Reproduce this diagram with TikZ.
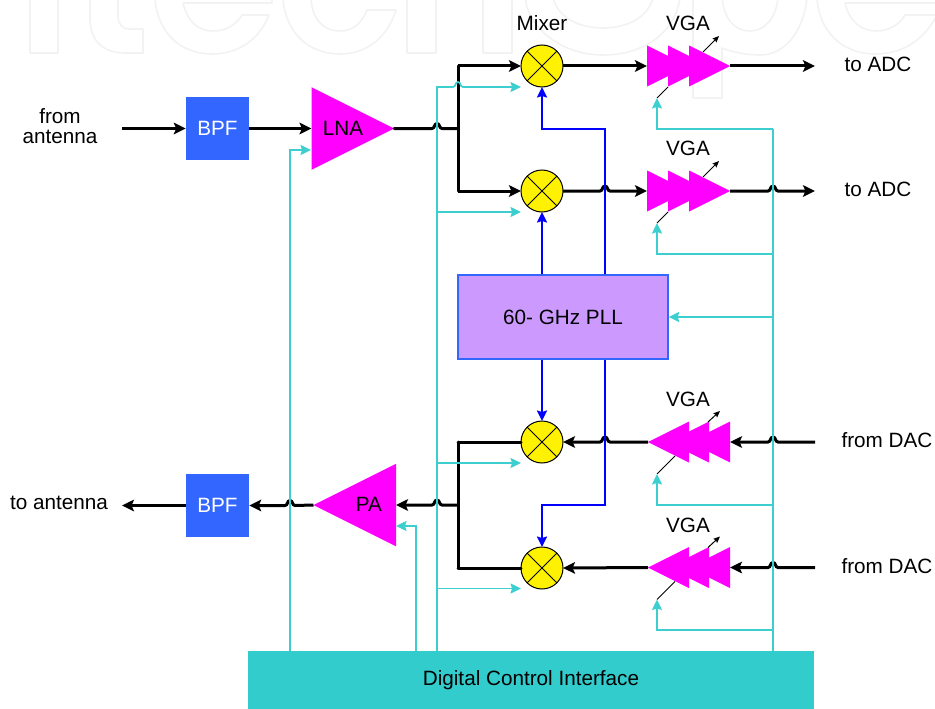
\documentclass[tikz,border=0pt]{standalone}
\usepackage{fontspec}
\setmainfont{Liberation Sans}
\usetikzlibrary{arrows.meta,shapes.geometric}
\definecolor{mag}{HTML}{FF00FF}
\definecolor{blk}{HTML}{3366FF}
\definecolor{ctl}{HTML}{3DCFCF}
\definecolor{digi}{HTML}{33CCCC}
\definecolor{pll}{HTML}{CC99FF}
\definecolor{wm}{HTML}{F2F2F2}
\newcommand\humpR[1]{-- ([xshift=-5pt]#1) .. controls ([xshift=-2pt]#1) and ([xshift=-3pt,yshift=5pt]#1) .. ([yshift=5pt]#1) .. controls ([xshift=3pt,yshift=5pt]#1) and ([xshift=2pt]#1) .. ([xshift=5pt]#1)}
\newcommand\humpL[1]{-- ([xshift=5pt]#1) .. controls ([xshift=2pt]#1) and ([xshift=3pt,yshift=5pt]#1) .. ([yshift=5pt]#1) .. controls ([xshift=-3pt,yshift=5pt]#1) and ([xshift=-2pt]#1) .. ([xshift=-5pt]#1)}
\tikzset{
  x=1pt,y=-1pt,
  lbl/.style={font=\fontsize{20.7}{22}\selectfont,inner sep=0pt,align=center},
  sig/.style={line width=3pt,black,-{Stealth[length=12pt,width=11.5pt,inset=2.5pt]}},
  signo/.style={line width=3pt,black,line cap=round,line join=round},
  ctrl/.style={line width=1.7pt,ctl,-{Stealth[length=10.5pt,width=10pt,inset=1.5pt]}},
  lo/.style={line width=2pt,blue,-{Stealth[length=10.5pt,width=10pt,inset=1.5pt]}},
  gainarrow/.style={line width=1pt,black,-{Stealth[length=6.5pt,width=5.5pt,inset=1pt]}},
  gainline/.style={line width=1pt,black},
  bpfbox/.style={fill=blk,minimum width=63pt,minimum height=63pt,inner sep=0pt,text=white,font=\fontsize{20.7}{22}\selectfont},
  mixer/.style={circle,draw=black,line width=1pt,fill=yellow,minimum size=42pt,inner sep=0pt,outer sep=0pt},
  amp/.style={isosceles triangle,isosceles triangle stretches,fill=mag,inner sep=0pt,outer sep=0pt,minimum width=#1,minimum height=#1},
  ampr/.style={amp=82.5pt},
  stage/.style={amp=41pt},
  wmark/.style={draw=wm,line width=1.6pt,line join=round},
}
\begin{document}
\begin{tikzpicture}
\useasboundingbox (0,0) rectangle (935,709);
% watermark
\begin{scope}
\clip (0,0) rectangle (935,709);
\draw[wmark] (30,-2) -- (30,53) -- (58,53) -- (58,-2);
\draw[wmark] (90,-2) -- (90,18) .. controls (90,42) and (104,53) .. (125,53) -- (143,53) -- (143,29) -- (130,29) .. controls (122,29) and (118,24) .. (118,16) -- (118,-2);
\draw[wmark] (155,-2) .. controls (157,32) and (180,54) .. (212,54) .. controls (240,54) and (260,38) .. (269,15) -- (242,15) .. controls (236,25) and (226,31) .. (213,31) .. controls (197,31) and (187,20) .. (183,3) -- (272,3) -- (272,-2);
\draw[wmark] (283,-2) .. controls (285,32) and (308,54) .. (340,54) .. controls (368,54) and (388,36) .. (396,10) -- (367,10) .. controls (362,23) and (353,31) .. (340,31) .. controls (322,31) and (312,18) .. (311,-2);
\draw[wmark] (407,-2) -- (407,53) -- (436,53) -- (436,-2);
\draw[wmark] (483,-2) -- (483,53) -- (512,53) -- (512,-2);
\draw[wmark] (525,-2) .. controls (530,32) and (565,55) .. (603,55) .. controls (645,55) and (675,32) .. (680,-2);
\draw[wmark] (553,-2) .. controls (558,17) and (578,28) .. (603,28) .. controls (628,28) and (648,17) .. (653,-2);
\draw[wmark] (693,-2) -- (693,98) -- (722,98) -- (722,48) .. controls (735,53) and (748,55) .. (760,55) .. controls (785,55) and (803,32) .. (807,-2);
\draw[wmark] (722,-2) .. controls (724,18) and (734,31) .. (750,31) .. controls (765,31) and (776,18) .. (778,-2);
\draw[wmark] (817,-2) .. controls (819,32) and (843,54) .. (875,54) .. controls (905,54) and (925,38) .. (937,15) -- (905,15) .. controls (899,25) and (889,31) .. (876,31) .. controls (860,31) and (849,20) .. (845,3) -- (940,3);
\end{scope}

% boxes
\node[bpfbox] (bpf1) at (217.5,128.5) {BPF};
\node[bpfbox] (bpf2) at (217.5,505.5) {BPF};
\node[ampr,anchor=apex] (lna) at (394,128.5) {};
\node[ampr,anchor=apex,shape border rotate=180] (pa) at (313.5,505) {};
\node[lbl] (lnat) at (343,128) {LNA};
\node[lbl] (pat) at (369,504) {PA};
\node[mixer] (m1) at (542,66) {};
\node[mixer] (m2) at (542,191) {};
\node[mixer] (m3) at (542,442) {};
\node[mixer] (m4) at (542,568) {};
\foreach \m in {m1,m2,m3,m4}{
  \draw[line width=1pt] (\m.45) -- (\m.225) (\m.135) -- (\m.-45);
}
% forward VGAs
\node[stage,anchor=lower side] (v1a) at (647,66) {};
\node[stage,anchor=lower side] (v1b) at (668,66) {};
\node[stage,anchor=lower side] (v1c) at (689,66) {};
\node[stage,anchor=lower side] (v2a) at (647,191) {};
\node[stage,anchor=lower side] (v2b) at (668,191) {};
\node[stage,anchor=lower side] (v2c) at (689,191) {};
% reverse VGAs
\node[stage,shape border rotate=180,anchor=lower side] (v3c) at (730,442) {};
\node[stage,shape border rotate=180,anchor=lower side] (v3b) at (709,442) {};
\node[stage,shape border rotate=180,anchor=lower side] (v3a) at (689,442) {};
\node[stage,shape border rotate=180,anchor=lower side] (v4c) at (730,567.5) {};
\node[stage,shape border rotate=180,anchor=lower side] (v4b) at (709,567.5) {};
\node[stage,shape border rotate=180,anchor=lower side] (v4a) at (689,567.5) {};

\node[draw=blk,line width=1.4pt,fill=pll,minimum width=210pt,minimum height=84pt,inner sep=0pt,font=\fontsize{20.7}{22}\selectfont] (pllb) at (563,317) {60- GHz PLL};
\node[fill=digi,minimum width=566pt,minimum height=58pt,inner sep=0pt,font=\fontsize{20.7}{22}\selectfont] (dci) at (531,680) {Digital Control Interface};

% texts
\node[lbl] (tfa) at (60,126.5) {from\\[-2pt]antenna};
\node[lbl] (tta) at (59,503) {to antenna};
\node[lbl] (tmx) at (542,23) {Mixer};
\node[lbl] (tv1) at (688,23) {VGA};
\node[lbl] (tv2) at (688,148) {VGA};
\node[lbl] (tv3) at (688,399) {VGA};
\node[lbl] (tv4) at (688,525) {VGA};
\node[lbl] (tad1) at (878,64) {to ADC};
\node[lbl] (tad2) at (878,189) {to ADC};
\node[lbl] (tda1) at (887,440) {from DAC};
\node[lbl] (tda2) at (887,566) {from DAC};

% named points
\coordinate (in) at (122,128.5);
\coordinate (out) at (122,505.5);
\coordinate (j1) at (458,128.5);
\coordinate (j1t) at (458,66);
\coordinate (j1b) at (458,191);
\coordinate (j2) at (458,505);
\coordinate (j2t) at (458,442);
\coordinate (j2b) at (458,568);
\coordinate (o1) at (815,66);
\coordinate (o2) at (815,191);
\coordinate (i3) at (815,442);
\coordinate (i4) at (815,567.5);
\coordinate (x1) at (437,128.5);
\coordinate (x2) at (437,505);
\coordinate (x3) at (290,505.5);
\coordinate (x4) at (605,191);
\coordinate (x5) at (773,191);
\coordinate (x6) at (605,442);
\coordinate (x7) at (773,442);
\coordinate (x8) at (773,567.5);
\coordinate (x9) at (458,87);

% black signal paths
\draw[signo] (lna.apex) \humpR{x1} -- (j1);
\draw[signo] (j1b) -- (j1t);
\draw[sig] (j1t) -- (m1.west);
\draw[sig] (j1b) -- (m2.west);
\draw[sig] (in) -- (bpf1.west);
\draw[sig] (bpf1.east) -- (lna.lower side);
\draw[sig] (m1.east) -- (v1a.lower side);
\draw[sig] (v1c.apex) -- (o1);
\draw[sig] (m2.east) \humpR{x4} -- (v2a.lower side);
\draw[sig] (v2c.apex) \humpR{x5} -- (o2);
\draw[sig] (i3) \humpL{x7} -- (v3c.lower side);
\draw[sig] (v3a.apex) \humpL{x6} -- (m3.east);
\draw[sig] (i4) \humpL{x8} -- (v4c.lower side);
\draw[sig] (v4a.apex) -- (m4.east);
\draw[signo] (j2t) -- (j2b);
\draw[signo] (j2t) -- (m3.west);
\draw[signo] (j2b) -- (m4.west);
\draw[sig] (j2) \humpL{x2} -- (pa.lower side);
\draw[sig] (pa.apex) \humpL{x3} -- (bpf2.east);
\draw[sig] (bpf2.west) -- (out);

% LO paths
\coordinate (p1) at (605,129);
\coordinate (p2) at (542,129);
\coordinate (p3) at (605,505);
\coordinate (p4) at (542,505);
\draw[lo] (pllb.north -| m2) -- (m2.south);
\draw[lo] (pllb.north -| p1) -- (p1) -- (p2) -- (m1.south);
\draw[lo] (pllb.south -| m3) -- (m3.north);
\draw[lo] (pllb.south -| p3) -- (p3) -- (p4) -- (m4.north);

% control paths
\coordinate (ca) at (437,651);
\coordinate (ca1) at (437,87);
\coordinate (cm1) at (521,87);
\coordinate (cb2) at (437,212);
\coordinate (cm2) at (521,212);
\coordinate (cb3) at (437,463);
\coordinate (cm3) at (521,463);
\coordinate (cb4) at (437,588.5);
\coordinate (cm4) at (521,588.5);
\draw[ctrl] (ca) -- (ca1) \humpR{x9} -- (cm1);
\draw[ctrl] (cb2) -- (cm2);
\draw[ctrl] (cb3) -- (cm3);
\draw[ctrl] (cb4) -- (cm4);
\draw[ctrl] (dci.north -| x3) |- (311,150);
\draw[ctrl] (416,651) |- (396,526);
\coordinate (rr) at (773,651);
\coordinate (g1) at (657,98);
\coordinate (g2) at (657,223);
\coordinate (g3) at (657,474);
\coordinate (g4) at (657,599.5);
\draw[ctrl,-] (rr) -- (773,129);
\draw[ctrl] (773,129) -| (g1);
\draw[ctrl] (773,254) -| (g2);
\draw[ctrl] (773,505) -| (g3);
\draw[ctrl] (773,630) -| (g4);
\draw[ctrl] (773,317) -- (pllb.east);

% gain-control slashes
\draw[gainline] (g1) -- (668,87);
\draw[gainarrow] (703,52) -- (719,36);
\draw[gainline] (g2) -- (668,212);
\draw[gainarrow] (703,177) -- (719,161);
\draw[gainline] (g3) -- (675,456);
\draw[gainarrow] (708,422) -- (720,411);
\draw[gainline] (g4) -- (675,581.5);
\draw[gainarrow] (708,547.5) -- (720,536.5);
\end{tikzpicture}
\end{document}
